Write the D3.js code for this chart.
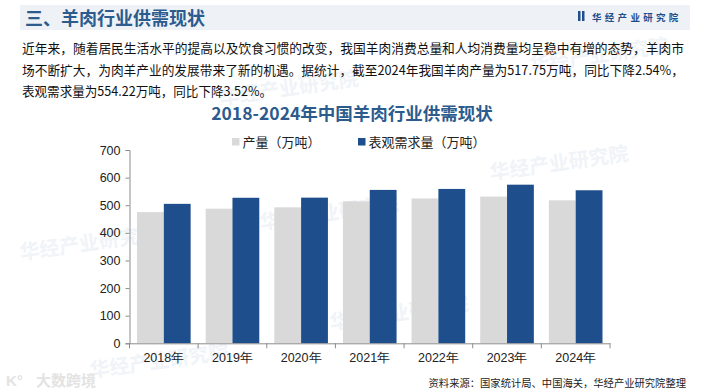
<!DOCTYPE html>
<html><head><meta charset="utf-8">
<script src="https://cdn.jsdelivr.net/npm/d3@7"></script>
<style>
html,body{margin:0;padding:0;background:#fff;}
svg{display:block;}
</style></head>
<body>
<svg id="c" width="705" height="392"></svg>
<script>
const categories = ["2018年","2019年","2020年","2021年","2022年","2023年","2024年"];
const production = [475.1, 487.5, 492.3, 514.1, 524.5, 531.3, 517.75];
const demand = [505.0, 527.0, 527.5, 555.5, 559.0, 574.4, 554.22];
const seriesNames = ["产量（万吨）", "表观需求量（万吨）"];
const yTicks = [0, 100, 200, 300, 400, 500, 600, 700];
const headerTitle = "三、羊肉行业供需现状";
const brand = "华经产业研究院";
const paragraph = [
  "近年来，随着居民生活水平的提高以及饮食习惯的改变，我国羊肉消费总量和人均消费量均呈稳中有增的态势，羊肉市",
  "场不断扩大，为肉羊产业的发展带来了新的机遇。据统计，截至2024年我国羊肉产量为517.75万吨，同比下降2.54%，",
  "表观需求量为554.22万吨，同比下降3.52%。"
];
const chartTitle = "2018-2024年中国羊肉行业供需现状";
const source = "资料来源：国家统计局、中国海关，华经产业研究院整理";

const CJK = "'Noto Sans CJK SC','Noto Sans',sans-serif";
const NUM = "'Liberation Sans Narrow','Liberation Sans',Arial,sans-serif";
const svg = d3.select("#c");

// faint watermarks
const wm = [[90,250],[330,220],[560,170],[160,368],[600,62],[400,320],[290,95]];
wm.forEach(([x,y])=>{
  svg.append("text").attr("x",x).attr("y",y).attr("transform",`rotate(-8,${x},${y})`)
    .attr("font-family",CJK).attr("font-weight","bold").attr("font-size",20)
    .attr("fill","#f0f3f7").attr("text-anchor","middle").text(brand);
});

// header band
svg.append("rect").attr("x",20).attr("y",5).attr("width",670).attr("height",25).attr("fill","#eef2f7");
svg.append("text").attr("x",25).attr("y",24.5).attr("font-family",CJK).attr("font-weight","bold")
  .attr("font-size",18).attr("fill","#2c5b8d").text(headerTitle);
// brand logo
svg.append("rect").attr("x",578).attr("y",11).attr("width",2.5).attr("height",10).attr("fill","#1f4e8c");
svg.append("rect").attr("x",582).attr("y",11).attr("width",2.5).attr("height",10).attr("fill","#1f4e8c");
svg.append("text").attr("x",592).attr("y",20.5).attr("font-family",CJK).attr("font-weight","bold")
  .attr("font-size",9.5).attr("letter-spacing",3.3).attr("fill","#1f4e8c").text(brand);

// paragraph
const pY = [53, 74.5, 96];
const pLen = [662, 662, 250];
paragraph.forEach((line,i)=>{
  svg.append("text").attr("x",22).attr("y",pY[i]).attr("font-family",CJK)
    .attr("font-size",13).attr("fill","#111").text(line)
    .attr("textLength",pLen[i]).attr("lengthAdjust","spacingAndGlyphs");
});

// chart title
svg.append("text").attr("x",352).attr("y",119.5).attr("text-anchor","middle").attr("font-family",CJK)
  .attr("font-weight","bold").attr("font-size",17.5).attr("fill","#2c5b8d").text(chartTitle);

// legend
const colors = ["#d9d9d9", "#1f4e8c"];
const legX = [232, 358];
seriesNames.forEach((n,i)=>{
  svg.append("rect").attr("x",legX[i]).attr("y",138).attr("width",7.5).attr("height",7.5).attr("fill",colors[i]);
  svg.append("text").attr("x",legX[i]+10.5).attr("y",146.5).attr("font-family",CJK)
    .attr("font-size",13).attr("fill","#222").text(n);
});

// scales
const x = d3.scaleBand().domain(categories).range([129.5, 610]).paddingInner(0).paddingOuter(0);
const y = d3.scaleLinear().domain([0,700]).range([343.3,150]);
const inner = d3.scaleBand().domain([0,1]).range([0, x.bandwidth()]).paddingOuter(0.28).paddingInner(0);

const g = svg.append("g");
const series = [production, demand];
series.forEach((vals,si)=>{
  g.selectAll(null).data(vals).enter().append("rect")
    .attr("x",(d,i)=>x(categories[i])+inner(si))
    .attr("y",d=>y(d))
    .attr("width",inner.bandwidth())
    .attr("height",d=>y(0)-y(d))
    .attr("fill",colors[si]);
});

// y axis
const ya = svg.append("g").attr("transform","translate(129.5,0)")
  .call(d3.axisLeft(y).tickValues(yTicks).tickSize(4).tickPadding(5));
ya.select(".domain").attr("stroke","#8c8c8c");
ya.selectAll(".tick line").attr("stroke","#8c8c8c");
ya.selectAll(".tick text").attr("font-family",NUM).attr("font-size",12.5).attr("fill","#222");

// x axis
const xa = svg.append("g").attr("transform","translate(0,343.3)")
  .call(d3.axisBottom(x).tickSize(0).tickPadding(10));
xa.select(".domain").attr("stroke","#8c8c8c");
xa.selectAll(".tick text").attr("font-family",NUM).attr("font-size",12.5).attr("fill","#222");
// boundary tick marks
const bounds = categories.map(c=>x(c)).concat([x.range()[1]]);
xa.selectAll(".bt").data(bounds).enter().append("line").attr("class","bt")
  .attr("x1",d=>d).attr("x2",d=>d).attr("y1",0).attr("y2",5).attr("stroke","#8c8c8c");

// footer
svg.append("text").attr("x",686).attr("y",387).attr("text-anchor","end").attr("font-family",CJK)
  .attr("font-size",10.3).attr("fill","#222").text(source);
svg.append("text").attr("x",36).attr("y",386).attr("font-family",CJK).attr("font-weight","bold")
  .attr("font-size",15).attr("fill","#e3e3e3").text("大数跨境");
svg.append("text").attr("x",6).attr("y",386).attr("font-family",NUM).attr("font-weight","bold")
  .attr("font-size",15).attr("fill","#e3e3e3").text("K°");
</script>
</body></html>
